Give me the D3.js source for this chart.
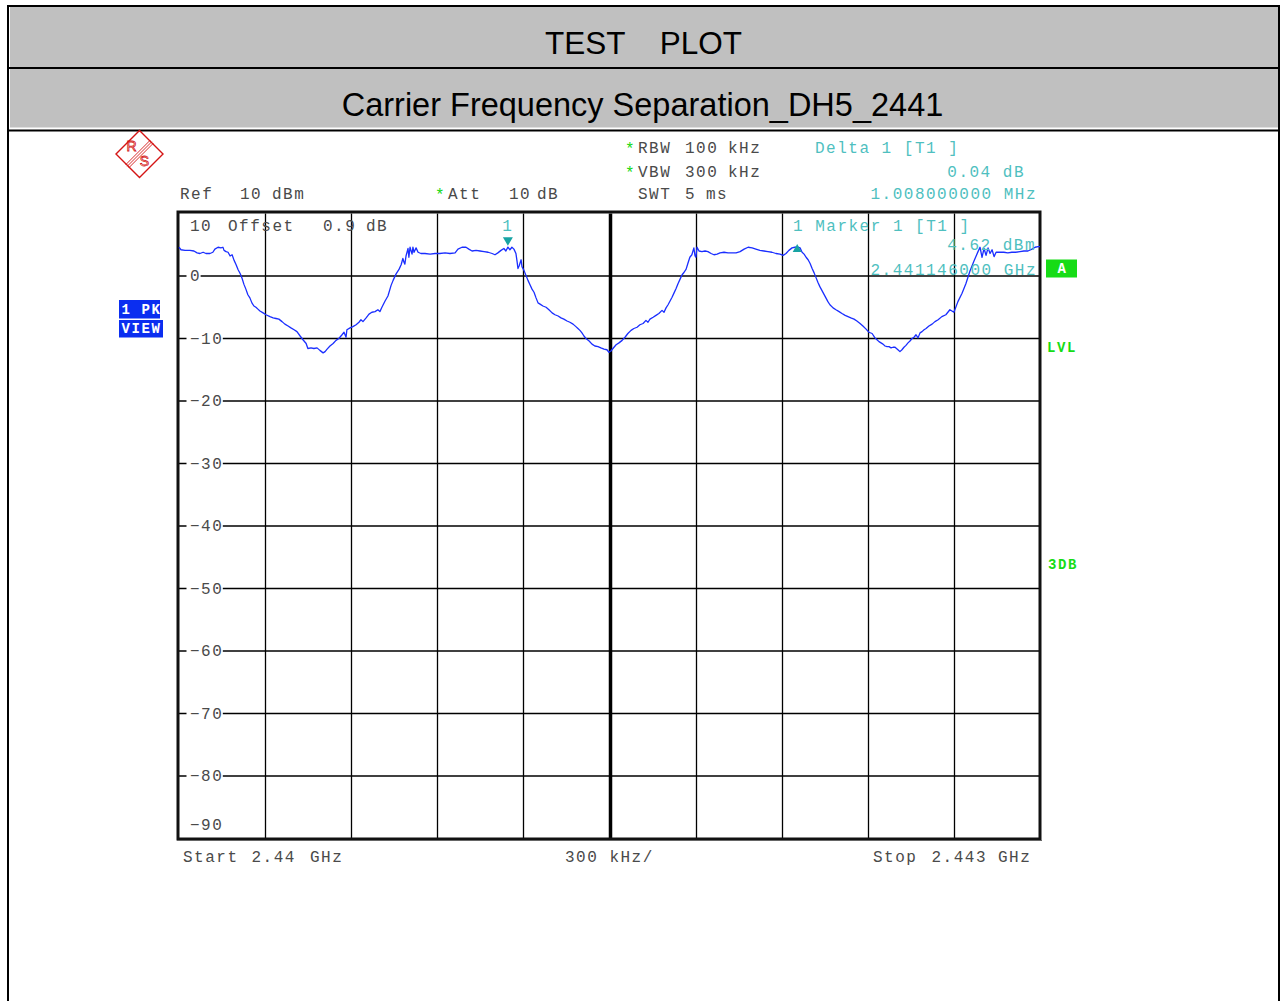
<!DOCTYPE html>
<html>
<head>
<meta charset="utf-8">
<script src="https://cdn.jsdelivr.net/npm/d3@7"></script>
<style>
  html, body { margin: 0; padding: 0; background: #fff; }
  svg { display: block; }
  .mono { font-family: "Liberation Mono", "DejaVu Sans Mono", monospace; font-size: 16px; letter-spacing: 1.5px; }
  .gray { fill: #4a4a4a; }
  .teal { fill: #4fbfbf; }
  .star { fill: #14d814; }
  .title { font-family: "Liberation Sans", Arial, sans-serif; fill: #000; white-space: pre; }
  .badge { font-family: "Liberation Mono", "DejaVu Sans Mono", monospace; font-weight: bold; font-size: 14px; letter-spacing: 1.6px; }
</style>
</head>
<body>
<svg id="chart" width="1280" height="1001"></svg>
<script>
// Sweep settings
const startGHz = 2.44;
const stopGHz = 2.443;
const spanKHz = 3000;
const levelRange = [-90, 10];           // dBm, bottom to top
const levelTicks = [10, 0, -10, -20, -30, -40, -50, -60, -70, -80, -90];
const freqDivisionsKHz = [0, 300, 600, 900, 1200, 1500, 1800, 2100, 2400, 2700, 3000];

// Marker 1 (frequency offset from start in kHz, level in dBm) and delta 1 (kHz, dB)
const marker1 = [1146, 4.62];
const delta1 = [1008, 0.04];

// Trace: [offset from start in kHz, level in dBm]
const trace = [
  [0,4.6],[7,4.2],[21,4.1],[38,4.1],[52,4.0],[63,3.7],[73,3.6],[84,3.8],[94,3.6],[108,3.6],
  [118,3.8],[125,4.3],[136,4.6],[146,4.5],[153,4.6],[157,4.1],[164,3.9],[171,3.8],[178,3.2],[185,3.4],
  [192,2.5],[199,1.8],[206,1.0],[213,0.4],[220,-0.4],[226,-1.3],[233,-2.1],[240,-3.0],[247,-3.5],[254,-4.3],
  [261,-4.8],[268,-5.0],[275,-5.3],[282,-5.6],[293,-5.9],[303,-6.2],[317,-6.5],[328,-6.7],[338,-6.8],[348,-6.9],
  [359,-7.3],[369,-7.7],[380,-8.0],[390,-8.3],[401,-8.6],[411,-8.9],[422,-9.6],[432,-10.2],[443,-10.8],[449,-11.6],
  [460,-11.5],[470,-11.6],[481,-11.5],[491,-11.9],[502,-12.3],[509,-12.1],[516,-11.7],[526,-11.2],[537,-10.8],[547,-10.3],
  [557,-10.0],[568,-9.4],[575,-9.0],[582,-9.8],[585,-8.6],[596,-8.3],[606,-8.1],[617,-7.8],[627,-7.4],[634,-7.0],
  [641,-7.3],[652,-6.7],[662,-6.1],[672,-5.8],[683,-5.7],[693,-5.4],[700,-5.7],[707,-5.0],[718,-4.0],[728,-3.2],
  [739,-1.5],[746,-0.7],[756,0.3],[767,1.1],[774,1.8],[780,2.8],[784,2.2],[787,1.9],[791,3.2],[798,4.4],
  [801,3.0],[805,4.6],[812,3.5],[815,4.6],[819,3.8],[826,4.5],[833,3.8],[843,3.6],[857,3.6],[875,3.5],
  [892,3.6],[909,3.6],[927,3.7],[944,3.6],[962,3.7],[972,4.3],[986,4.6],[1000,4.6],[1010,4.3],[1021,4.0],
  [1035,4.1],[1049,4.0],[1063,3.9],[1077,3.8],[1091,3.6],[1101,3.4],[1111,3.7],[1122,4.1],[1132,4.4],[1139,4.0],
  [1146,4.62],[1153,4.2],[1160,4.6],[1167,4.3],[1174,3.6],[1178,2.3],[1181,1.2],[1185,1.6],[1192,2.6],[1195,1.5],
  [1202,0.9],[1209,0.1],[1216,-0.7],[1223,-1.4],[1230,-2.1],[1237,-2.6],[1244,-3.5],[1251,-4.3],[1258,-4.5],[1268,-4.8],
  [1279,-5.0],[1289,-5.4],[1300,-5.9],[1310,-6.2],[1321,-6.4],[1331,-6.7],[1341,-6.9],[1352,-7.2],[1362,-7.4],[1373,-7.7],
  [1383,-8.1],[1390,-8.4],[1397,-8.7],[1404,-9.1],[1411,-9.6],[1418,-10.0],[1429,-10.4],[1439,-10.9],[1449,-11.2],[1460,-11.3],
  [1470,-11.5],[1481,-11.7],[1491,-11.8],[1498,-12.2],[1505,-12.0],[1512,-11.6],[1523,-11.0],[1533,-10.7],[1544,-10.3],[1554,-9.8],
  [1564,-9.2],[1575,-8.7],[1585,-8.4],[1596,-8.2],[1606,-7.8],[1617,-7.6],[1627,-7.1],[1634,-7.4],[1641,-6.9],[1652,-6.6],
  [1662,-6.3],[1672,-6.0],[1683,-5.5],[1690,-5.8],[1697,-5.1],[1704,-4.6],[1711,-4.0],[1718,-3.4],[1725,-2.7],[1732,-2.0],
  [1739,-1.2],[1746,-0.5],[1753,0.2],[1760,0.6],[1767,1.1],[1773,2.0],[1780,3.0],[1787,3.4],[1794,4.5],[1798,3.2],
  [1801,3.0],[1805,4.6],[1812,4.0],[1822,3.9],[1833,4.0],[1843,3.9],[1854,3.6],[1864,3.4],[1875,3.5],[1885,3.7],
  [1899,3.8],[1913,3.7],[1927,3.7],[1941,3.7],[1955,3.9],[1969,4.3],[1983,4.6],[1997,4.5],[2010,4.3],[2024,4.1],
  [2038,4.0],[2052,3.9],[2066,3.8],[2080,3.6],[2094,3.5],[2105,3.3],[2115,3.6],[2125,4.1],[2136,4.5],[2146,4.6],
  [2154,4.66],[2164,4.5],[2171,3.8],[2178,3.5],[2185,3.0],[2192,2.6],[2199,2.0],[2206,1.2],[2213,0.5],[2220,-0.3],
  [2226,-1.0],[2233,-1.7],[2240,-2.3],[2247,-2.9],[2254,-3.5],[2261,-4.1],[2268,-4.6],[2279,-5.1],[2289,-5.4],[2300,-5.7],
  [2310,-6.0],[2321,-6.3],[2331,-6.5],[2341,-6.7],[2352,-6.9],[2362,-7.2],[2373,-7.6],[2383,-8.0],[2394,-8.5],[2404,-9.0],
  [2415,-9.2],[2425,-9.9],[2432,-10.2],[2439,-10.5],[2446,-10.7],[2453,-10.9],[2460,-11.2],[2467,-11.3],[2474,-11.3],[2481,-11.5],
  [2488,-11.4],[2495,-11.4],[2505,-11.8],[2512,-12.1],[2519,-11.8],[2526,-11.4],[2533,-11.1],[2540,-10.7],[2547,-10.4],[2554,-10.0],
  [2561,-9.8],[2568,-9.4],[2575,-9.9],[2582,-9.1],[2589,-8.9],[2596,-8.6],[2603,-8.4],[2613,-8.0],[2624,-7.7],[2634,-7.3],
  [2645,-7.0],[2658,-6.5],[2672,-6.2],[2686,-5.4],[2700,-5.8],[2714,-4.1],[2728,-2.8],[2742,-1.2],[2756,0.8],[2770,2.4],
  [2784,3.9],[2791,4.6],[2798,3.0],[2805,4.4],[2812,3.3],[2819,4.5],[2826,3.6],[2833,4.2],[2840,3.1],[2847,3.8],
  [2861,3.8],[2874,3.8],[2888,3.7],[2902,3.8],[2916,3.8],[2930,3.9],[2944,4.0],[2958,4.0],[2972,4.3],[2983,4.6],
  [2993,4.7],[3000,4.7]
];

const svg = d3.select("#chart");

// ---------- report header ----------
const header = svg.append("g");
header.append("rect").attr("x", 10).attr("y", 7).attr("width", 1268).attr("height", 60).attr("fill", "#c0c0c0");
header.append("rect").attr("x", 10).attr("y", 69).attr("width", 1268).attr("height", 58.5).attr("fill", "#c0c0c0");
const frameLines = [
  [8, 6, 1279, 6], [8, 5, 8, 1001], [1279, 5, 1279, 1001], [8, 68, 1279, 68], [8, 130.5, 1279, 130.5]
];
header.selectAll("line").data(frameLines).join("line")
  .attr("x1", d => d[0]).attr("y1", d => d[1]).attr("x2", d => d[2]).attr("y2", d => d[3])
  .attr("stroke", "#000").attr("stroke-width", 2);
header.append("text").attr("class", "title").attr("x", 643.5).attr("y", 54)
  .attr("text-anchor", "middle").attr("font-size", 31.5).text("TEST    PLOT");
header.append("text").attr("class", "title").attr("x", 642.5).attr("y", 116)
  .attr("text-anchor", "middle").attr("font-size", 32.5).text("Carrier Frequency Separation_DH5_2441");

// ---------- scales ----------
const x = d3.scaleLinear().domain([0, spanKHz]).range([179, 1040]);
const y = d3.scaleLinear().domain(levelRange).range([838.5, 213.5]);

// ---------- logo ----------
const logo = svg.append("g").attr("stroke", "#d41414").attr("fill", "none").attr("stroke-width", 1.4);
const cx = 139.5, cy = 154, r = 23.5;
logo.append("path").attr("d", `M${cx},${cy - r}L${cx + r},${cy}L${cx},${cy + r}L${cx - r},${cy}Z`);
[-2.2, 0, 2.2].forEach(o => {
  logo.append("line")
    .attr("x1", cx - r / 2 - 0.5 + o * 0.7).attr("y1", cy + r / 2 + 0.5 + o * 0.7)
    .attr("x2", cx + r / 2 + 0.5 + o * 0.7).attr("y2", cy - r / 2 - 0.5 + o * 0.7)
    .attr("stroke-width", 0.9);
});
logo.append("text").attr("x", 131.5).attr("y", 151).attr("text-anchor", "middle")
  .attr("font-family", "Liberation Sans, Arial, sans-serif").attr("font-size", 14).attr("fill", "none")
  .attr("stroke", "#d41414").attr("stroke-width", 0.8).text("R");
logo.append("text").attr("x", 144.5).attr("y", 166).attr("text-anchor", "middle")
  .attr("font-family", "Liberation Sans, Arial, sans-serif").attr("font-size", 14).attr("fill", "none")
  .attr("stroke", "#d41414").attr("stroke-width", 0.8).text("S");

// ---------- settings text ----------
function label(tx, ty, str, cls, anchor) {
  return svg.append("text").attr("class", "mono " + cls).attr("x", tx).attr("y", ty)
    .attr("text-anchor", anchor || "start").style("white-space", "pre").text(str);
}
const rowRBW = 153.3, rowVBW = 176.7, rowSWT = 199.3, rowIn = 231;

label(625, rowRBW + 1, "*", "star");
label(638, rowRBW, "RBW", "gray"); label(685, rowRBW, "100", "gray"); label(728, rowRBW, "kHz", "gray");
label(625, rowVBW + 1, "*", "star");
label(638, rowVBW, "VBW", "gray"); label(685, rowVBW, "300", "gray"); label(728, rowVBW, "kHz", "gray");
label(638, rowSWT, "SWT", "gray"); label(685, rowSWT, "5", "gray"); label(706, rowSWT, "ms", "gray");

label(180, rowSWT, "Ref", "gray"); label(240, rowSWT, "10", "gray"); label(272, rowSWT, "dBm", "gray");
label(435, rowSWT + 1, "*", "star");
label(448, rowSWT, "Att", "gray"); label(509, rowSWT, "10", "gray"); label(537, rowSWT, "dB", "gray");

// delta marker readout
label(815, rowRBW, "Delta 1 [T1 ]", "teal");
label(1025, rowVBW, delta1[1].toFixed(2) + " dB", "teal", "end");
label(870.5, rowSWT, (delta1[0] / 1000).toFixed(9) + " MHz", "teal");

// ---------- grid ----------
const grid = svg.append("g");
grid.selectAll("line.v").data(freqDivisionsKHz.slice(1, -1)).join("line")
  .attr("class", "v")
  .attr("x1", d => Math.round(x(d)) + 0.5).attr("x2", d => Math.round(x(d)) + 0.5)
  .attr("y1", y(10)).attr("y2", y(-90))
  .attr("stroke", "#000").attr("stroke-width", d => d === spanKHz / 2 ? 3.5 : 1.3);
grid.selectAll("line.h").data(levelTicks.slice(1, -1)).join("line")
  .attr("class", "h")
  .attr("x1", x(0)).attr("x2", x(spanKHz))
  .attr("y1", d => y(d)).attr("y2", d => y(d))
  .attr("stroke", "#000").attr("stroke-width", 1.3);

// level labels, sitting on the grid with a cleared backdrop
const fmtLevel = d => (d < 0 ? "\u2212" : "") + Math.abs(d);
levelTicks.forEach(d => {
  let ty = y(d) + 5;
  if (d === levelRange[1]) ty = rowIn;
  if (d === levelRange[0]) ty = y(d) - 8.5;
  const t = label(190, ty, fmtLevel(d), "gray");
  if (d !== levelRange[1] && d !== levelRange[0]) {
    const b = t.node().getBBox();
    svg.insert("rect", function () { return t.node(); })
      .attr("x", b.x - 3.5).attr("y", y(d) - 3).attr("width", b.width + 3).attr("height", 6)
      .attr("fill", "#fff");
  }
});
label(228, rowIn, "Offset", "gray");
label(323, rowIn, "0.9", "gray");
label(366, rowIn, "dB", "gray");

// plot frame
svg.append("rect").attr("x", 178).attr("y", 212).attr("width", 862).attr("height", 627)
  .attr("fill", "none").attr("stroke", "#111").attr("stroke-width", 3);
svg.append("line").attr("x1", 177).attr("x2", 1042).attr("y1", 840.5).attr("y2", 840.5)
  .attr("stroke", "#666").attr("stroke-width", 1);

// ---------- trace ----------
const line = d3.line().x(d => x(d[0])).y(d => y(d[1]));
svg.append("path").datum(trace).attr("d", line)
  .attr("fill", "none").attr("stroke", "#1a2eff").attr("stroke-width", 1.3).attr("stroke-linejoin", "round");

// ---------- markers ----------
const m1x = x(marker1[0]), m1y = y(marker1[1]);
svg.append("path").attr("d", `M${m1x - 5},${m1y - 10}L${m1x + 5},${m1y - 10}L${m1x},${m1y - 1.5}Z`).attr("fill", "#17a3a3");
label(m1x, rowIn, "1", "teal", "middle");
const d1x = x(marker1[0] + delta1[0]), d1y = y(marker1[1] + delta1[1]);
svg.append("path").attr("d", `M${d1x},${d1y - 3}L${d1x + 4.5},${d1y + 5}L${d1x - 4.5},${d1y + 5}Z`).attr("fill", "#17a3a3");

label(793, rowIn, "1 Marker 1 [T1 ]", "teal");
label(1036, 250, marker1[1].toFixed(2) + " dBm", "teal", "end");
label(870.5, 275, ((startGHz * 1e6 + marker1[0]) / 1e6).toFixed(9) + " GHz", "teal");

// ---------- side badges ----------
svg.append("rect").attr("x", 1046).attr("y", 259.5).attr("width", 31).attr("height", 18).attr("fill", "#16dc16");
svg.append("text").attr("class", "badge").attr("x", 1062.5).attr("y", 273).attr("text-anchor", "middle").attr("fill", "#fff").text("A");
svg.append("text").attr("class", "badge").attr("x", 1047).attr("y", 352).attr("fill", "#16dc16").text("LVL");
svg.append("text").attr("class", "badge").attr("x", 1048).attr("y", 569).attr("fill", "#16dc16").text("3DB");

svg.append("rect").attr("x", 119).attr("y", 300).attr("width", 41).attr("height", 18.5).attr("fill", "#0b2ef0");
svg.append("rect").attr("x", 119).attr("y", 320).attr("width", 44).attr("height", 17.5).attr("fill", "#0b2ef0");
svg.append("text").attr("class", "badge").attr("x", 121.5).attr("y", 314.3).attr("fill", "#fff").style("white-space", "pre").text("1 PK");
svg.append("text").attr("class", "badge").attr("x", 121.5).attr("y", 333.3).attr("fill", "#fff").text("VIEW");

// ---------- sweep span ----------
const rowBottom = 861.5;
label(183, rowBottom, "Start", "gray"); label(251.5, rowBottom, String(startGHz), "gray"); label(310, rowBottom, "GHz", "gray");
label(565, rowBottom, `${spanKHz / 10} kHz/`, "gray");
label(873, rowBottom, "Stop", "gray"); label(931.5, rowBottom, String(stopGHz), "gray"); label(998, rowBottom, "GHz", "gray");
</script>
</body>
</html>
